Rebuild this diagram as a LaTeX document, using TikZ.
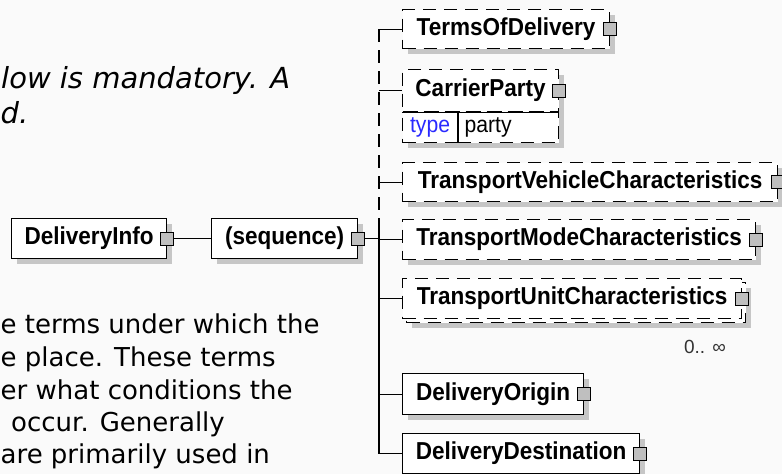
\documentclass[tikz,border=0pt]{standalone}
\usepackage{fontspec}
\setmainfont{Liberation Sans}
\newfontfamily\elemfont{Liberation Sans}[FakeStretch=0.92]
\newfontfamily\descfont{DejaVu Sans}
\usetikzlibrary{positioning, shadows}
\definecolor{pagebg}{HTML}{FAFAFA}
\definecolor{shadowgray}{HTML}{C6C6C6}
\definecolor{typeblue}{HTML}{2A2AFF}
\tikzset{
  box/.style={draw, fill=white, line width=1.2pt, anchor=north west, inner sep=0pt,
    minimum height=40pt, font=\elemfont\fontsize{24.5}{28}\selectfont\bfseries},
  elem/.style={box, drop shadow={shadow xshift=5pt, shadow yshift=-5pt, fill=shadowgray, opacity=1, draw=none}},
  opt/.style={elem, dash pattern=on 13pt off 8pt},
  stack/.style={box, dash pattern=on 13pt off 8pt,
    general shadow={shadow xshift=9pt, shadow yshift=-9pt, fill=shadowgray, opacity=1, draw=none},
    general shadow={shadow xshift=4pt, shadow yshift=-4pt, fill=white, draw=black, opacity=1,
      line width=1.2pt, dash pattern=on 13pt off 8pt}},
  cell/.style={opt, minimum height=31pt, font=\elemfont\fontsize{23}{26}\selectfont},
  expd/.style={draw, fill=black!25, line width=1.2pt, minimum size=13pt, inner sep=0pt},
  conn/.style={line width=1.2pt},
  optline/.style={conn, dash pattern=on 13pt off 8pt},
  desc/.style={font=\descfont\fontsize{26}{32}\selectfont, anchor=base west, inner sep=0pt},
  occ/.style={font=\fontsize{19}{21}\selectfont, text=black!80, anchor=base east, inner sep=0pt},
}
\begin{document}
\begin{tikzpicture}[x=1pt, y=-1pt]
  \fill[pagebg] (0,0) rectangle (782,474);
  \useasboundingbox (0,0) rectangle (782,474);

  % description text along the left edge
  \node[desc, font=\descfont\itshape\fontsize{29}{34}\selectfont] (noteA) at (1,88) {low is mandatory. A};
  \node[desc, font=\descfont\itshape\fontsize{29}{34}\selectfont] (noteB) at (0.5,123) {d.};
  \node[desc] (textA) at (0.5,333) {e terms under which the};
  \node[desc] (textB) at (0.5,366) {e place. These terms};
  \node[desc] (textC) at (0.5,399) {er what conditions the};
  \node[desc] (textD) at (11,431) {occur. Generally};
  \node[desc] (textE) at (0.5,463) {are primarily used in};

  % root and compositor
  \node[elem, minimum width=155pt] (info) at (11,218) {DeliveryInfo};
  \node[elem, minimum width=146pt] (seq) at (211,218) {(sequence)};
  \node[expd] (infoX) at (info.east) {};
  \node[expd] (seqX) at (seq.east) {};

  % children
  \node[opt, minimum width=207pt, minimum height=39pt] (terms) at (402,9) {TermsOfDelivery};
  \node[opt, minimum width=156pt, minimum height=42pt] (carrier) at (402,69) {CarrierParty};
  \node[cell, minimum width=55pt, text=typeblue] (ctype) at (402,111) {type};
  \node[cell, inner xsep=7pt, text width=87pt, align=left] (cval) at (457,111) {party};
  \node[opt, minimum width=375pt, minimum height=39pt] (vehicle) at (402,162) {TransportVehicleCharacteristics};
  \node[opt, minimum width=353pt] (mode) at (402,219) {TransportModeCharacteristics};
  \node[stack, minimum width=339pt] (unit) at (402,278) {TransportUnitCharacteristics};
  \node[elem, minimum width=181pt, minimum height=41pt] (origin) at (402,373) {DeliveryOrigin};
  \node[elem, minimum width=237pt] (dest) at (402,433) {DeliveryDestination};
  \node[occ] (unitOcc) at (726,353) {0.. ∞};

  \draw[conn] (carrier.south west) -- (carrier.south east);
  \draw[conn] (ctype.north east) -- (ctype.south east);

  \node[expd] (termsX) at (terms.east) {};
  \node[expd] (carrierX) at (carrier.east) {};
  \node[expd] (vehicleX) at (vehicle.east) {};
  \node[expd] (modeX) at (mode.east) {};
  \node[expd] (unitX) at (unit.east) {};
  \node[expd] (originX) at (origin.east) {};
  \node[expd] (destX) at (dest.east) {};

  % connectors
  \coordinate (bus) at (379,0);
  \draw[conn] (infoX) -- (seq);
  \draw[conn] (seqX) -- (seqX -| bus);
  \draw[optline] (terms.west -| bus) -- (mode.north -| bus);
  \draw[conn] (mode.north -| bus) -- (dest.west -| bus);
  \draw[conn] (terms.west -| bus) -- (terms);
  \draw[conn] (carrier.west -| bus) -- (carrier);
  \draw[conn] (vehicle.west -| bus) -- (vehicle);
  \draw[conn] (mode.west -| bus) -- (mode);
  \draw[conn] (unit.west -| bus) -- (unit);
  \draw[conn] (origin.west -| bus) -- (origin);
  \draw[conn] (dest.west -| bus) -- (dest);
\end{tikzpicture}
\end{document}
